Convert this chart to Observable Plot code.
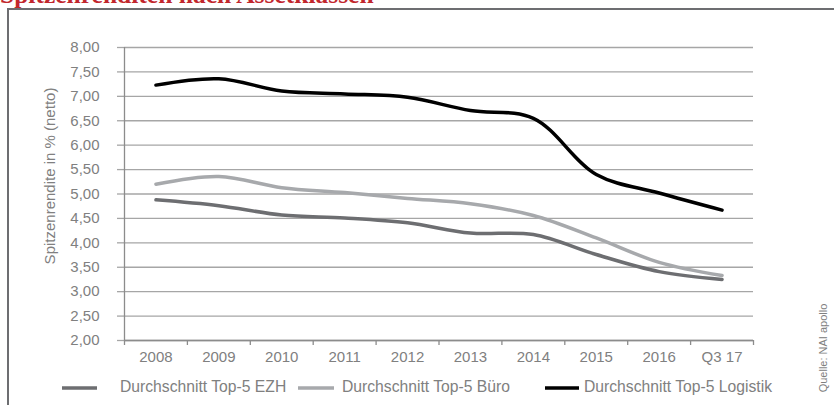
<!DOCTYPE html>
<html>
<head>
<meta charset="utf-8">
<script src="https://cdn.jsdelivr.net/npm/d3@7"></script>
<script src="https://cdn.jsdelivr.net/npm/@observablehq/plot@0.6"></script>
<style>
  html, body { margin: 0; padding: 0; background: #fff; }
  body { width: 834px; height: 405px; overflow: hidden; position: relative; font-family: "Liberation Sans", Arial, sans-serif; }
  #frame { position: absolute; left: 7px; top: 8px; width: 900px; height: 500px; border: 2.5px solid #6d6e71; box-sizing: border-box; }
  #chart { position: absolute; left: 0; top: 0; }
  #overlay { position: absolute; left: 0; top: 0; }
</style>
</head>
<body>
<div id="frame"></div>
<div id="chart"></div>
<svg id="overlay" width="834" height="405"></svg>
<script>
// ---- data ----
const categories = ["2008", "2009", "2010", "2011", "2012", "2013", "2014", "2015", "2016", "Q3 17"];
const ezh      = [4.88, 4.76, 4.57, 4.51, 4.41, 4.20, 4.17, 3.76, 3.41, 3.25];
const buero    = [5.20, 5.36, 5.13, 5.03, 4.91, 4.80, 4.56, 4.10, 3.60, 3.33];
const logistik = [7.23, 7.36, 7.11, 7.05, 6.98, 6.71, 6.55, 5.40, 5.02, 4.67];
const yTicks   = [2, 2.5, 3, 3.5, 4, 4.5, 5, 5.5, 6, 6.5, 7, 7.5, 8];
const seriesNames = ["Durchschnitt Top-5 EZH", "Durchschnitt Top-5 Büro", "Durchschnitt Top-5 Logistik"];
const seriesColors = ["#6d6e71", "#a7a9ac", "#000000"];
const titleText = "Spitzenrenditen nach Assetklassen";
const yLabel = "Spitzenrendite in % (netto)";
const sourceText = "Quelle: NAI apollo";

// ---- build ----
const seriesValues = [ezh, buero, logistik];
const rows = seriesValues.flatMap((vals, s) => vals.map((v, i) => ({i, v, s: seriesNames[s]})));
const fmt = d => d.toFixed(2).replace(".", ",");
const gridColor = "#a6a6a6";
const axisColor = "#8c8c8c";
const textColor = "#808080";

const chart = Plot.plot({
  width: 834,
  height: 405,
  marginTop: 47,
  marginBottom: 65,
  marginLeft: 124,
  marginRight: 81,
  style: {fontFamily: "'Liberation Sans', Arial, sans-serif", fontSize: "15px", color: textColor, background: "transparent"},
  x: {type: "linear", domain: [-0.5, categories.length - 0.5]},
  y: {domain: [yTicks[0], yTicks[yTicks.length - 1]]},
  marks: [
    Plot.gridY(yTicks, {stroke: gridColor, strokeOpacity: 1, strokeWidth: 1.3}),
    Plot.axisY(yTicks, {tickFormat: fmt, tickSize: 7, tickPadding: 18, stroke: gridColor, strokeWidth: 1.3, fill: textColor, label: null}),
    Plot.ruleX([-0.5], {stroke: axisColor, strokeWidth: 1.3}),
    Plot.ruleY([yTicks[0]], {stroke: axisColor, strokeWidth: 1.3}),
    Plot.axisX(d3.range(-0.5, categories.length), {tickSize: 5, tickFormat: () => "", stroke: axisColor, strokeWidth: 1.3, label: null}),
    Plot.axisX(d3.range(categories.length), {tickSize: 0, tickPadding: 11, tickFormat: i => categories[i], fill: textColor, label: null}),
    ...seriesNames.map((name, k) =>
      Plot.line(rows.filter(r => r.s === name), {x: "i", y: "v", stroke: seriesColors[k], strokeWidth: 3.5, curve: "catmull-rom"})
    )
  ]
});
document.getElementById("chart").appendChild(chart);

// ---- overlay texts: title, y label, legend, source ----
const ov = d3.select("#overlay");
ov.append("text")
  .attr("x", 0).attr("y", 3)
  .style("font-family", "'Liberation Serif', 'DejaVu Serif', serif")
  .style("font-size", "25.5px")
  .style("font-weight", "bold")
  .style("fill", "#c1272d")
  .text(titleText);

ov.append("text")
  .attr("transform", "translate(51,176) rotate(-90)")
  .attr("text-anchor", "middle")
  .attr("dominant-baseline", "middle")
  .style("font-family", "'Liberation Sans', Arial, sans-serif")
  .style("font-size", "15px")
  .style("fill", textColor)
  .text(yLabel);

ov.append("text")
  .attr("transform", "translate(824,348) rotate(-90)")
  .attr("text-anchor", "middle")
  .attr("dominant-baseline", "middle")
  .style("font-family", "'Liberation Sans', Arial, sans-serif")
  .style("font-size", "11px")
  .style("fill", textColor)
  .text(sourceText);

const legendItems = [
  {x1: 62, x2: 97, tx: 120},
  {x1: 298, x2: 334, tx: 342},
  {x1: 545, x2: 579, tx: 584}
];
legendItems.forEach((it, k) => {
  ov.append("line")
    .attr("x1", it.x1).attr("x2", it.x2).attr("y1", 388).attr("y2", 388)
    .attr("stroke", seriesColors[k]).attr("stroke-width", 3.5);
  ov.append("text")
    .attr("x", it.tx).attr("y", 388)
    .attr("dominant-baseline", "middle")
    .style("font-family", "'Liberation Sans', Arial, sans-serif")
    .style("font-size", "15.7px")
    .style("fill", textColor)
    .text(seriesNames[k]);
});
</script>
</body>
</html>
